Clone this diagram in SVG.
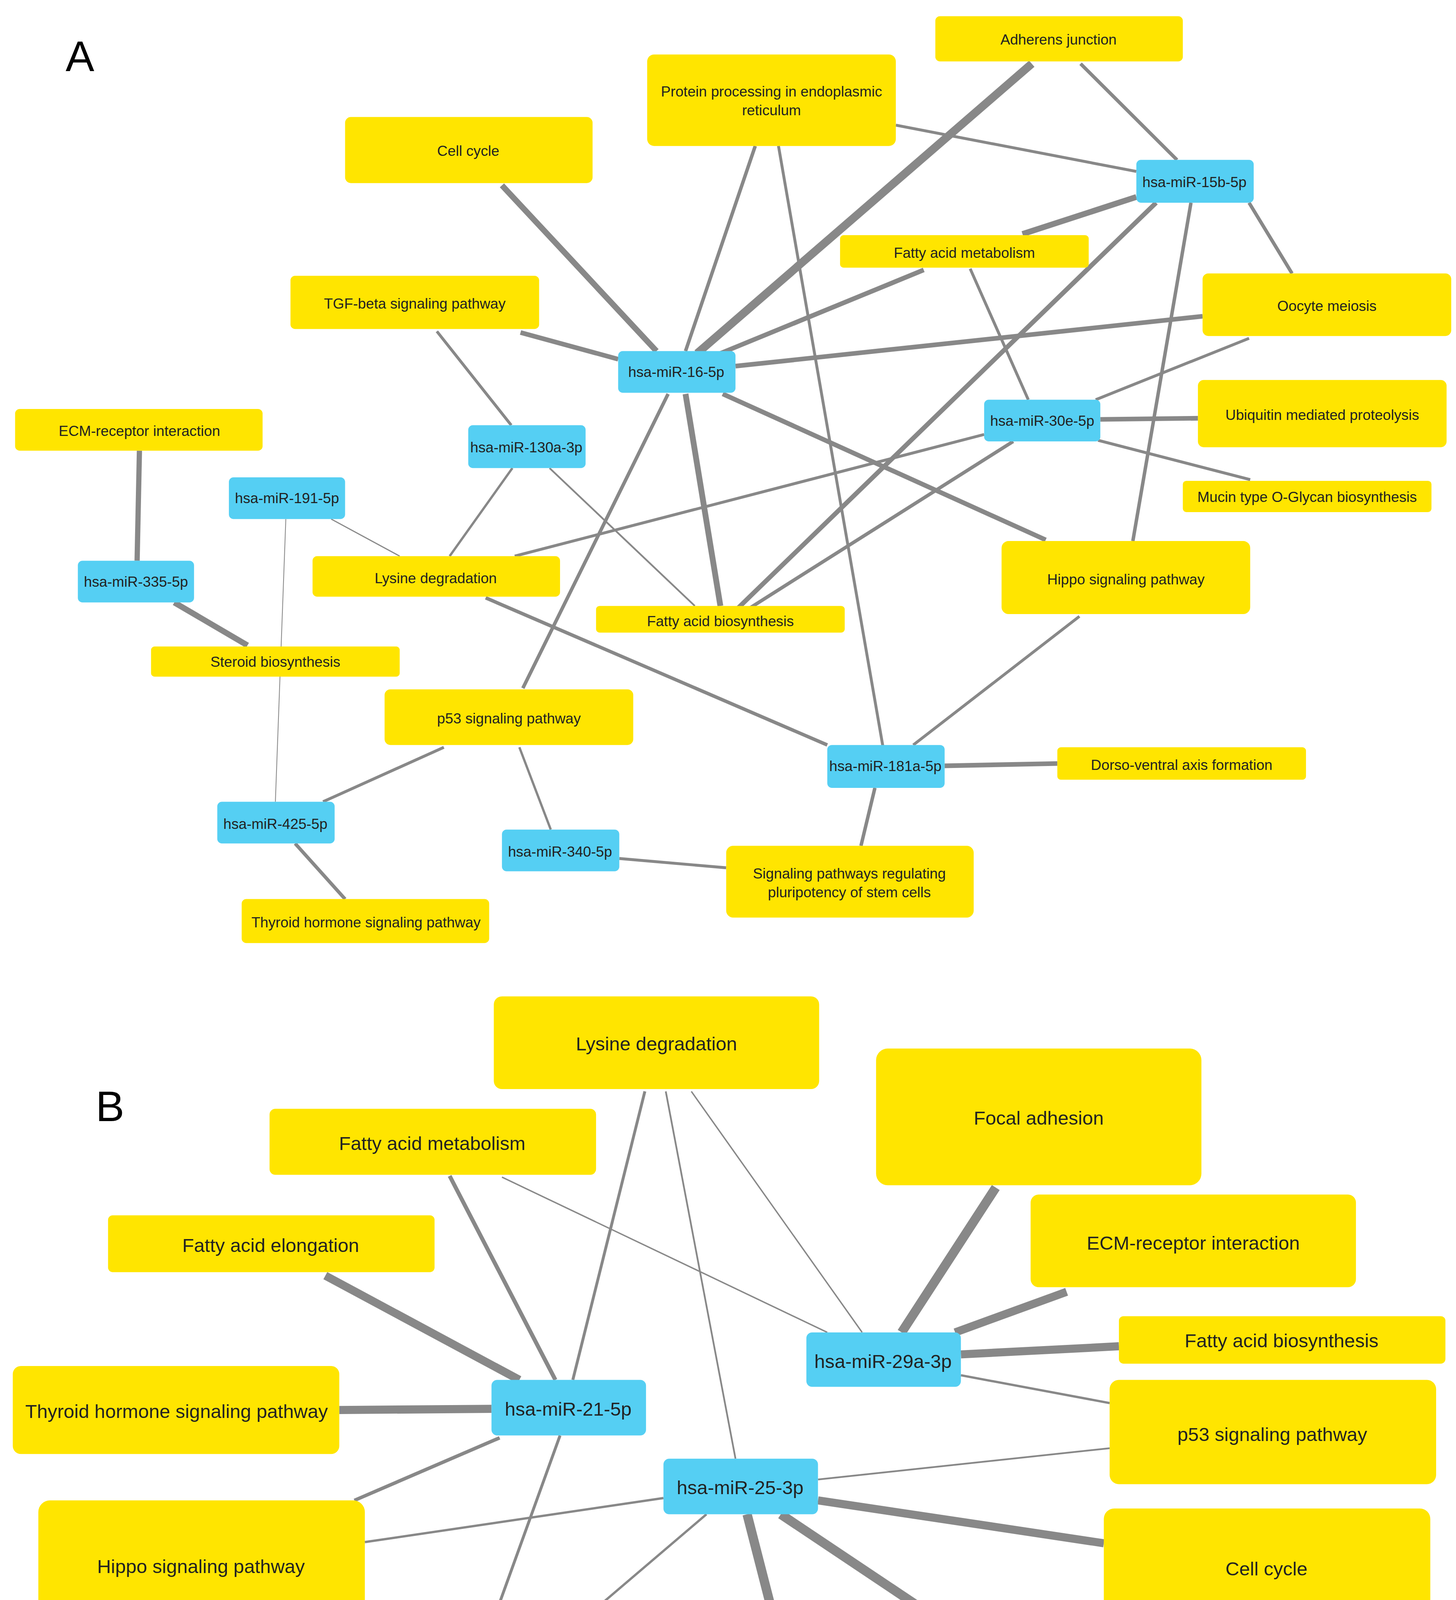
<svg xmlns="http://www.w3.org/2000/svg" width="3728" height="4642" viewBox="0 0 3728 4642">
<style>
.y{fill:#FFE500}.b{fill:#55CFF3}
text{font-family:"Liberation Sans",Arial,sans-serif;fill:#222;text-anchor:middle;dominant-baseline:central}
.a{font-size:12.5px}.bb{font-size:16.5px}
.e line{stroke:#888;stroke-linecap:butt}
.lab{font-size:110px;fill:#000;text-anchor:start;dominant-baseline:auto}
</style>
<rect width="3728" height="4642" fill="#fff"/>
<g transform="scale(2.975,2.966)">
<g id="connectors" class="e">
<line x1="888" y1="55" x2="600" y2="305" stroke-width="7"/>
<line x1="930" y1="55" x2="1013" y2="138" stroke-width="3"/>
<line x1="771" y1="108" x2="978" y2="148" stroke-width="2.5"/>
<line x1="650" y1="126" x2="590" y2="303" stroke-width="3"/>
<line x1="670" y1="126" x2="760" y2="645" stroke-width="2.5"/>
<line x1="432" y1="160" x2="565" y2="303" stroke-width="5"/>
<line x1="978" y1="170" x2="880" y2="202" stroke-width="5"/>
<line x1="1075" y1="175" x2="1112" y2="236" stroke-width="3"/>
<line x1="995" y1="175" x2="635" y2="525" stroke-width="4"/>
<line x1="1025" y1="175" x2="975" y2="467" stroke-width="3"/>
<line x1="795" y1="233" x2="620" y2="305" stroke-width="4"/>
<line x1="835" y1="232" x2="885" y2="345" stroke-width="2.5"/>
<line x1="448" y1="287" x2="532" y2="310" stroke-width="4"/>
<line x1="376" y1="286" x2="440" y2="367" stroke-width="2.5"/>
<line x1="633" y1="316" x2="1035" y2="273" stroke-width="4"/>
<line x1="622" y1="340" x2="900" y2="466" stroke-width="4"/>
<line x1="590" y1="340" x2="620" y2="523" stroke-width="5"/>
<line x1="575" y1="340" x2="450" y2="594" stroke-width="3"/>
<line x1="1075" y1="292" x2="943" y2="345" stroke-width="2.5"/>
<line x1="947" y1="362" x2="1031" y2="361" stroke-width="4"/>
<line x1="945" y1="380" x2="1076" y2="414" stroke-width="2.5"/>
<line x1="847" y1="375" x2="443" y2="480" stroke-width="2.5"/>
<line x1="872" y1="381" x2="645" y2="525" stroke-width="3"/>
<line x1="441" y1="404" x2="387" y2="480" stroke-width="2"/>
<line x1="473" y1="404" x2="598" y2="523" stroke-width="1.5"/>
<line x1="285" y1="448" x2="344" y2="480" stroke-width="1"/>
<line x1="246" y1="448" x2="237" y2="692" stroke-width="0.7"/>
<line x1="120" y1="389" x2="118" y2="484" stroke-width="4.5"/>
<line x1="150" y1="520" x2="213" y2="557" stroke-width="5"/>
<line x1="418" y1="516" x2="712" y2="643" stroke-width="3"/>
<line x1="929" y1="532" x2="786" y2="643" stroke-width="2.5"/>
<line x1="813" y1="661" x2="910" y2="659" stroke-width="4"/>
<line x1="753" y1="680" x2="741" y2="730" stroke-width="3"/>
<line x1="382" y1="645" x2="278" y2="692" stroke-width="2.5"/>
<line x1="447" y1="645" x2="474" y2="716" stroke-width="2"/>
<line x1="533" y1="741" x2="625" y2="749" stroke-width="2.5"/>
<line x1="254" y1="728" x2="297" y2="776" stroke-width="3"/>
<line x1="555" y1="942" x2="493" y2="1191" stroke-width="2.5"/>
<line x1="573" y1="942" x2="633" y2="1259" stroke-width="1.5"/>
<line x1="595" y1="942" x2="742" y2="1150" stroke-width="1.2"/>
<line x1="387" y1="1015" x2="478" y2="1191" stroke-width="3.5"/>
<line x1="432" y1="1016" x2="712" y2="1150" stroke-width="1.2"/>
<line x1="857" y1="1025" x2="776" y2="1150" stroke-width="8"/>
<line x1="918" y1="1115" x2="822" y2="1150" stroke-width="7"/>
<line x1="963" y1="1162" x2="827" y2="1169" stroke-width="7"/>
<line x1="827" y1="1187" x2="955" y2="1211" stroke-width="2"/>
<line x1="280" y1="1101" x2="447" y2="1191" stroke-width="7"/>
<line x1="292" y1="1217" x2="423" y2="1216" stroke-width="7"/>
<line x1="430" y1="1241" x2="305" y2="1295" stroke-width="3"/>
<line x1="482" y1="1239" x2="415" y2="1425" stroke-width="2.5"/>
<line x1="704" y1="1277" x2="955" y2="1250" stroke-width="1.5"/>
<line x1="571" y1="1293" x2="314" y2="1331" stroke-width="2"/>
<line x1="704" y1="1295" x2="950" y2="1332" stroke-width="7"/>
<line x1="672" y1="1307" x2="830" y2="1413" stroke-width="8"/>
<line x1="643" y1="1307" x2="683" y2="1463" stroke-width="8"/>
<line x1="608" y1="1307" x2="470" y2="1425" stroke-width="2"/>
</g>
<g id="A-nodes" class="a">
<g id="a_adherens"><rect class="y" x="805" y="14" width="213" height="39" rx="4"/><text x="911" y="34">Adherens junction</text></g>
<g id="a_protein"><rect class="y" x="557" y="47" width="214" height="79" rx="6"/><text x="664" y="79">Protein processing in endoplasmic</text><text x="664" y="95">reticulum</text></g>
<g id="a_cellcycle"><rect class="y" x="297" y="101" width="213" height="57" rx="5"/><text x="403" y="130">Cell cycle</text></g>
<g id="a_15b"><rect class="b" x="978" y="138" width="101" height="37" rx="4"/><text x="1028" y="157">hsa-miR-15b-5p</text></g>
<g id="a_fam"><rect class="y" x="723" y="203" width="214" height="28" rx="3"/><text x="830" y="218">Fatty acid metabolism</text></g>
<g id="a_oocyte"><rect class="y" x="1035" y="236" width="214" height="54" rx="5"/><text x="1142" y="264">Oocyte meiosis</text></g>
<g id="a_tgf"><rect class="y" x="250" y="238" width="214" height="46" rx="4"/><text x="357" y="262">TGF-beta signaling pathway</text></g>
<g id="a_16"><rect class="b" x="532" y="303" width="101" height="36" rx="4"/><text x="582" y="321">hsa-miR-16-5p</text></g>
<g id="a_30e"><rect class="b" x="847" y="345" width="100" height="36" rx="4"/><text x="897" y="363">hsa-miR-30e-5p</text></g>
<g id="a_ubiq"><rect class="y" x="1031" y="328" width="214" height="58" rx="5"/><text x="1138" y="358">Ubiquitin mediated proteolysis</text></g>
<g id="a_mucin"><rect class="y" x="1018" y="415" width="214" height="27" rx="3"/><text x="1125" y="429">Mucin type O-Glycan biosynthesis</text></g>
<g id="a_ecm"><rect class="y" x="13" y="353" width="213" height="36" rx="4"/><text x="120" y="372">ECM-receptor interaction</text></g>
<g id="a_130a"><rect class="b" x="403" y="367" width="101" height="37" rx="4"/><text x="453" y="386">hsa-miR-130a-3p</text></g>
<g id="a_191"><rect class="b" x="197" y="412" width="100" height="36" rx="4"/><text x="247" y="430">hsa-miR-191-5p</text></g>
<g id="a_lysine"><rect class="y" x="269" y="480" width="213" height="35" rx="4"/><text x="375" y="499">Lysine degradation</text></g>
<g id="a_hippo"><rect class="y" x="862" y="467" width="214" height="63" rx="6"/><text x="969" y="500">Hippo signaling pathway</text></g>
<g id="a_fab"><rect class="y" x="513" y="523" width="214" height="23" rx="3"/><text x="620" y="536">Fatty acid biosynthesis</text></g>
<g id="a_335"><rect class="b" x="67" y="484" width="100" height="36" rx="4"/><text x="117" y="502">hsa-miR-335-5p</text></g>
<g id="a_steroid"><rect class="y" x="130" y="558" width="214" height="26" rx="3"/><text x="237" y="571">Steroid biosynthesis</text></g>
<g id="a_p53"><rect class="y" x="331" y="595" width="214" height="48" rx="5"/><text x="438" y="620">p53 signaling pathway</text></g>
<g id="a_181a"><rect class="b" x="712" y="643" width="101" height="37" rx="4"/><text x="762" y="661">hsa-miR-181a-5p</text></g>
<g id="a_dorso"><rect class="y" x="910" y="645" width="214" height="28" rx="3"/><text x="1017" y="660">Dorso-ventral axis formation</text></g>
<g id="a_425"><rect class="b" x="187" y="692" width="101" height="36" rx="4"/><text x="237" y="711">hsa-miR-425-5p</text></g>
<g id="a_340"><rect class="b" x="432" y="716" width="101" height="36" rx="4"/><text x="482" y="735">hsa-miR-340-5p</text></g>
<g id="a_spr"><rect class="y" x="625" y="730" width="213" height="62" rx="6"/><text x="731" y="754">Signaling pathways regulating</text><text x="731" y="770">pluripotency of stem cells</text></g>
<g id="a_thyroid"><rect class="y" x="208" y="776" width="213" height="38" rx="4"/><text x="315" y="796">Thyroid hormone signaling pathway</text></g>
</g>
<g id="B-nodes" class="bb">
<g id="b_lysine"><rect class="y" x="425" y="860" width="280" height="80" rx="7"/><text x="565" y="901">Lysine degradation</text></g>
<g id="b_focal"><rect class="y" x="754" y="905" width="280" height="118" rx="10"/><text x="894" y="965">Focal adhesion</text></g>
<g id="b_fam"><rect class="y" x="232" y="957" width="281" height="57" rx="5"/><text x="372" y="987">Fatty acid metabolism</text></g>
<g id="b_ecm"><rect class="y" x="887" y="1031" width="280" height="80" rx="7"/><text x="1027" y="1073">ECM-receptor interaction</text></g>
<g id="b_fae"><rect class="y" x="93" y="1049" width="281" height="49" rx="4"/><text x="233" y="1075">Fatty acid elongation</text></g>
<g id="b_fab"><rect class="y" x="963" y="1136" width="281" height="41" rx="4"/><text x="1103" y="1157">Fatty acid biosynthesis</text></g>
<g id="b_29a"><rect class="b" x="694" y="1150" width="133" height="47" rx="5"/><text x="760" y="1175">hsa-miR-29a-3p</text></g>
<g id="b_thyroid"><rect class="y" x="11" y="1179" width="281" height="76" rx="7"/><text x="152" y="1218">Thyroid hormone signaling pathway</text></g>
<g id="b_21"><rect class="b" x="423" y="1191" width="133" height="48" rx="5"/><text x="489" y="1216">hsa-miR-21-5p</text></g>
<g id="b_p53"><rect class="y" x="955" y="1191" width="281" height="90" rx="8"/><text x="1095" y="1238">p53 signaling pathway</text></g>
<g id="b_25"><rect class="b" x="571" y="1259" width="133" height="48" rx="5"/><text x="637" y="1284">hsa-miR-25-3p</text></g>
<g id="b_hippo"><rect class="y" x="33" y="1295" width="281" height="110" rx="10"/><text x="173" y="1352">Hippo signaling pathway</text></g>
<g id="b_cell"><rect class="y" x="950" y="1302" width="281" height="99" rx="9"/><text x="1090" y="1354">Cell cycle</text></g>
<g id="b_valine"><rect class="y" x="720" y="1413" width="281" height="41" rx="3"/><text x="858" y="1424">Valine, leucine and isoleucine</text><text x="858" y="1446">biosynthesis</text></g>
<g id="b_foxo"><rect class="y" x="253" y="1425" width="281" height="126" rx="11"/><text x="393" y="1490">FoxO signaling pathway</text></g>
<g id="b_adherens"><rect class="y" x="550" y="1463" width="280" height="64" rx="6"/><text x="690" y="1497">Adherens junction</text></g>
</g>
</g>
<text class="lab" x="168" y="182">A</text>
<text class="lab" x="245" y="2870">B</text>
</svg>
